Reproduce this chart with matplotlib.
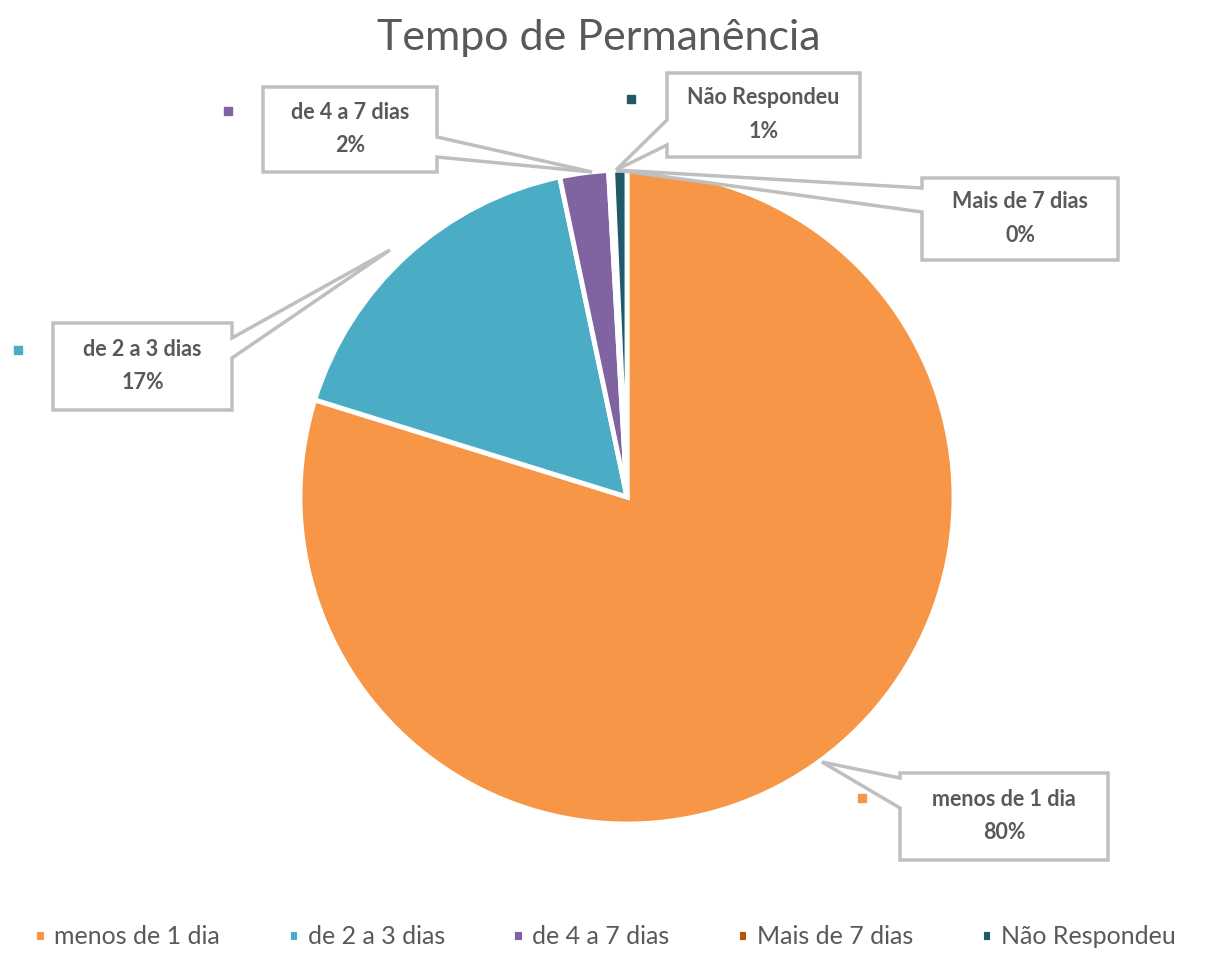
import matplotlib.pyplot as plt
from matplotlib.patches import Polygon

# data
categories = ['menos de 1 dia', 'de 2 a 3 dias', 'de 4 a 7 dias', 'Mais de 7 dias', 'Não Respondeu']
values = [79.8, 16.9, 2.4, 0.2, 0.7]
pct_labels = ['80%', '17%', '2%', '0%', '1%']
colors = ['#F79646', '#4BACC6', '#8064A2', '#B65708', '#215968']

# callout layout in pixels: box (x0, y0, x1, y1), side of pointer, pointer span, tip, key marker
callouts = {
    'menos de 1 dia': dict(box=(900, 773, 1108, 860), side='left', span=(778, 808), tip=(822, 762), key=(862, 798)),
    'de 2 a 3 dias': dict(box=(53, 323, 232, 410), side='right', span=(338, 358), tip=(390, 250), key=(18, 350)),
    'de 4 a 7 dias': dict(box=(263, 87, 437, 172), side='right', span=(137, 157), tip=(592, 172), key=(228, 111)),
    'Mais de 7 dias': dict(box=(922, 178, 1118, 260), side='left', span=(188, 212), tip=(616, 170), key=None),
    'Não Respondeu': dict(box=(667, 73, 860, 157), side='left', span=(120, 145), tip=(616, 170), key=(631, 99)),
}

W, H = 1210, 957
fig = plt.figure(figsize=(W / 100, H / 100), dpi=100)
ax = fig.add_axes([0, 0, 1, 1])

# y axis is inverted, so counterclock=True in data runs clockwise on screen
wedges, _ = ax.pie(values, colors=colors, startangle=-90, counterclock=True,
                   center=(627, 497), radius=327,
                   wedgeprops=dict(edgecolor='white', linewidth=3.5))

ax.set_xlim(0, W)
ax.set_ylim(H, 0)
ax.set_aspect('equal')
ax.axis('off')

label_font = dict(family=['Lato', 'DejaVu Sans'], fontsize=15.5, fontweight='bold', color='#595959')

for cat, pct, col in zip(categories, pct_labels, colors):
    c = callouts[cat]
    x0, y0, x1, y1 = c['box']
    a, b = c['span']
    if c['side'] == 'right':
        pts = [(x0, y0), (x1, y0), (x1, a), c['tip'], (x1, b), (x1, y1), (x0, y1)]
    else:
        pts = [(x0, y0), (x1, y0), (x1, y1), (x0, y1), (x0, b), c['tip'], (x0, a)]
    ax.add_patch(Polygon(pts, closed=True, facecolor='white', edgecolor='#BFBFBF',
                         linewidth=2.5, joinstyle='miter', zorder=3))
    cx, cy = (x0 + x1) / 2, (y0 + y1) / 2
    ax.text(cx, cy - 17, cat, ha='center', va='center', zorder=4, **label_font)
    ax.text(cx, cy + 16, pct, ha='center', va='center', zorder=4, **label_font)
    if c['key'] is not None:
        ax.plot(*c['key'], marker='s', markersize=6, color=col, zorder=4)

fig.text(0.495, 1 - 38 / H, 'Tempo de Permanência', ha='center', va='center',
         fontsize=31, color='#595959', family=['Lato', 'DejaVu Sans'])

leg = ax.legend(wedges, categories, loc='center', bbox_to_anchor=(0.5, 1 - 937 / H),
                bbox_transform=fig.transFigure, ncol=5, frameon=False,
                handlelength=0.45, handleheight=0.45, handletextpad=0.35,
                columnspacing=2.7,
                prop=dict(family=['Lato', 'DejaVu Sans'], size=18))
for t in leg.get_texts():
    t.set_color('#595959')

fig.savefig('out.png', dpi=100, facecolor='white')
